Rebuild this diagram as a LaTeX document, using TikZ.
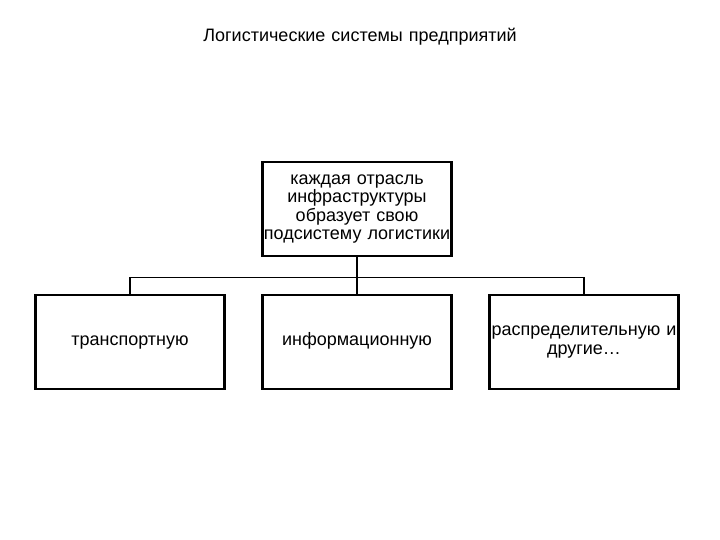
\documentclass[tikz,border=0pt]{standalone}
\usepackage{fontspec}
\setmainfont{Liberation Sans}
\usetikzlibrary{trees}

\begin{document}
\begin{tikzpicture}[
    level 1/.style={sibling distance=227pt, level distance=133pt},
    every node/.style={rectangle, text width=189pt, inner sep=0pt, align=center, font=\fontsize{18}{18.5}\selectfont},
    box/.style={draw, line width=2.8pt, minimum width=189pt, minimum height=94pt},
    edge from parent/.style={draw, line width=1.8pt},
    edge from parent path={(\tikzparentnode.south) -- ++(0,-20pt) -| (\tikzchildnode.north)}
]
% page frame
\useasboundingbox (0,0) rectangle (720pt,-540pt);

\node[text width=400pt] (title) at (360pt,-37pt) {Логистические системы предприятий};

\node[box] (sub) at (357pt,-209pt) {каждая отрасль\\инфраструктуры\\образует свою\\подсистему логистики}
    child {node[box] (trans) {\strut транспортную}}
    child {node[box] (info) {\strut информационную}}
    child {node[box] (distr) {распределительную и\\другие\ldots}};
\end{tikzpicture}
\end{document}
